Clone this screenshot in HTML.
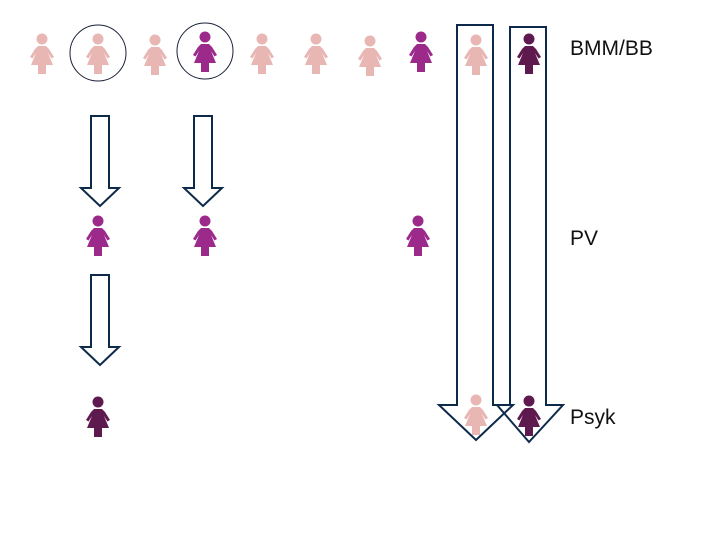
<!DOCTYPE html>
<html><head><meta charset="utf-8"><style>
body{margin:0;background:#fff;width:720px;height:540px;overflow:hidden}
svg{display:block}
text{font-family:"Liberation Sans",sans-serif;font-size:21px;fill:#111}
</style></head><body>
<svg width="720" height="540" viewBox="0 0 720 540">
<defs>
<g id="w">
<circle cx="0" cy="0" r="5.5"/>
<path d="M-4,7 L4,7 L7,10 L12,18 L9.5,19.5 L6,14 L11,26 L4,26 L4,35 L-4,35 L-4,26 L-11,26 L-6,14 L-9.5,19.5 L-12,18 L-7,10 Z"/>
</g>
</defs>
<g fill="none" stroke="#0e2a4a" stroke-width="2">
<polygon points="91,116 109,116 109,188 119,188 100,206 81,188 91,188"/>
<polygon points="194,116 212,116 212,188 222,188 203,206 184,188 194,188"/>
<polygon points="91,275 109,275 109,347 119,347 100,365 81,347 91,347"/>
<polygon points="457,25 493,25 493,405 513,405 476,440 439,405 457,405"/>
<polygon points="510,27 546,27 546,405 563,405 529,442 497,405 510,405"/>
</g>
<g fill="none" stroke="#1a2238" stroke-width="1">
<circle cx="98" cy="53" r="28"/>
<circle cx="205" cy="51" r="28"/>
</g>
<g fill="#e8b7b4">
<use href="#w" x="42" y="39"/>
<use href="#w" x="98" y="39"/>
<use href="#w" x="155" y="40"/>
<use href="#w" x="262" y="39"/>
<use href="#w" x="316" y="39"/>
<use href="#w" x="370" y="41"/>
<use href="#w" x="476" y="40"/>
<use href="#w" x="476" y="400"/>
</g>
<g fill="#9b2a8a">
<use href="#w" x="205" y="37"/>
<use href="#w" x="421" y="37"/>
<use href="#w" x="98" y="221"/>
<use href="#w" x="205" y="221"/>
<use href="#w" x="418" y="221"/>
</g>
<g fill="#5e1a4e">
<use href="#w" x="529" y="39"/>
<use href="#w" x="98" y="402"/>
<use href="#w" x="529" y="401"/>
</g>
<text x="570" y="55">BMM/BB</text>
<text x="570" y="245">PV</text>
<text x="570" y="424">Psyk</text>
</svg>
</body></html>
